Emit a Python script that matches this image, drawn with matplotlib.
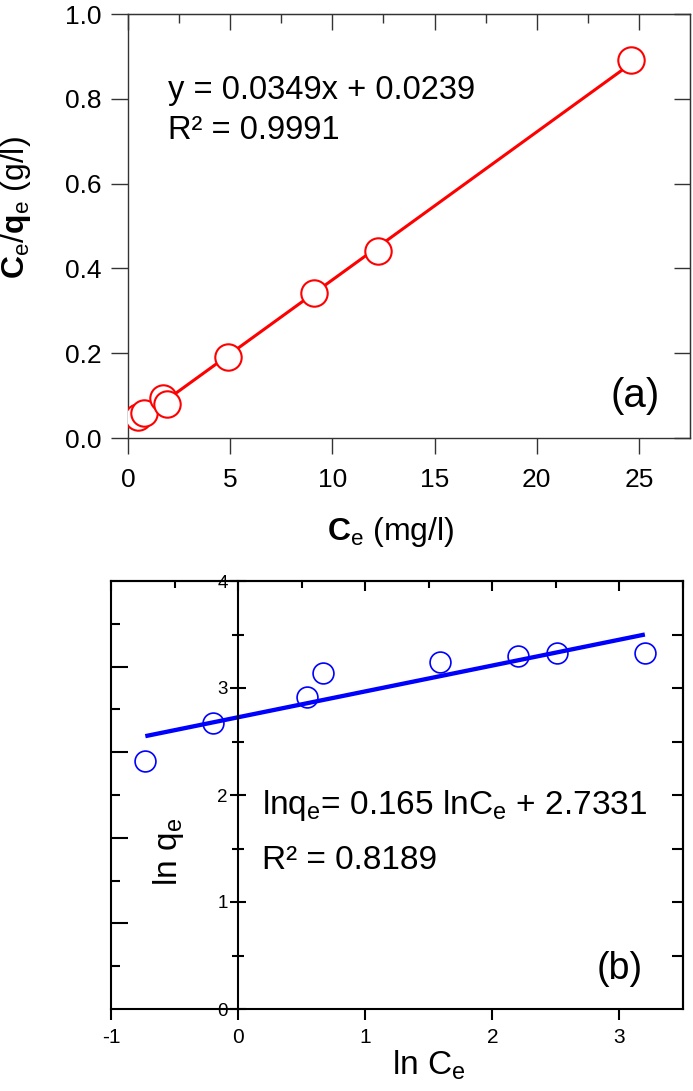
import matplotlib
matplotlib.use('Agg')
import matplotlib.pyplot as plt
from matplotlib.ticker import FixedLocator
import numpy as np

plt.rcParams['font.family'] = ['Liberation Sans', 'DejaVu Sans']
plt.rcParams['mathtext.fontset'] = 'custom'
plt.rcParams['mathtext.rm'] = 'Liberation Sans'
plt.rcParams['mathtext.it'] = 'Liberation Sans:italic'
plt.rcParams['mathtext.bf'] = 'Liberation Sans:bold'
plt.rcParams['axes.unicode_minus'] = False

# (a) Langmuir plot: Ce vs Ce/qe
ce_a = [0.49, 0.78, 1.72, 1.93, 4.88, 9.09, 12.24, 24.6]
ceqe_a = [0.05, 0.06, 0.094, 0.08, 0.19, 0.342, 0.441, 0.891]
slope_a, icept_a = 0.0349, 0.0239

# (b) Freundlich plot: ln Ce vs ln qe
lnce_b = [-0.73, -0.20, 0.54, 0.67, 1.59, 2.20, 2.51, 3.20]
lnqe_b = [2.32, 2.67, 2.92, 3.14, 3.24, 3.30, 3.33, 3.33]
line_b_x = [-0.73, 3.20]
line_b_y = [2.55, 3.50]

fig = plt.figure(figsize=(6.93, 10.91), dpi=100)

# ---------------- panel (a) ----------------
gray = '#333333'
ax1 = fig.add_axes([128/693, 1 - 438/1091, 562/693, 424/1091])
xf = np.array([min(ce_a), max(ce_a)])
ax1.plot(xf, slope_a * xf + icept_a, color='#ff0000', lw=2.2, zorder=2)
ax1.plot(ce_a, ceqe_a, 'o', ms=19, mfc='white', mec='#ff0000', mew=1.5, zorder=3)
ax1.set_xlim(0, 27.5)
ax1.set_ylim(0, 1.0)
ax1.set_xticks(np.arange(0, 26, 5))
ax1.set_yticks(np.arange(0, 1.01, 0.2))
ax1.yaxis.set_major_formatter('{x:.1f}')
for s in ax1.spines.values():
    s.set_color(gray)
    s.set_linewidth(1.0)
ax1.tick_params(axis='both', direction='out', width=1.0, color=gray, labelsize=19)
ax1.tick_params(axis='x', length=11.5, pad=10)
ax1.tick_params(axis='y', length=12, pad=7)

topx = ax1.secondary_xaxis('top')
topx.set_xticks(np.arange(0, 26, 5))
topx.xaxis.set_minor_locator(FixedLocator(np.arange(2.5, 27.5, 5)))
topx.tick_params(which='both', direction='in', color=gray, width=1.0, labeltop=False)
topx.tick_params(which='major', length=11.5)
topx.tick_params(which='minor', length=6.5)
topx.spines['top'].set_color(gray)

righty = ax1.secondary_yaxis('right')
righty.set_yticks(np.arange(0, 1.01, 0.2))
righty.tick_params(direction='in', length=11.5, color=gray, width=1.0, labelright=False)
righty.spines['right'].set_color(gray)

ax1.set_xlabel(r'$\mathbf{C}_{\mathrm{e}}$ (mg/l)', fontsize=23)
ax1.xaxis.set_label_coords(0.468, -0.182)
ax1.set_ylabel(r'$\mathbf{C}_{\mathrm{e}}/\mathbf{q}_{\mathrm{e}}$ (g/l)', fontsize=23)
ax1.yaxis.set_label_coords(-0.169, 0.543)

ax1.text(1.96, 0.82, 'y = 0.0349x + 0.0239', fontsize=23.5, va='center', ha='left')
ax1.text(1.96, 0.726, 'R² = 0.9991', fontsize=23.5, va='center', ha='left')
ax1.text(24.8, 0.10, '(a)', fontsize=29, va='center', ha='center')

# ---------------- panel (b) ----------------
ax2 = fig.add_axes([111/693, 1 - 1009/1091, 572/693, 428/1091])
ax2.plot(line_b_x, line_b_y, color='#0000ff', lw=3.1, zorder=2, solid_capstyle='butt')
ax2.plot(lnce_b, lnqe_b, 'o', ms=15, mfc='none', mec='#0000ff', mew=1.2, zorder=3)
ax2.set_xlim(-1, 3.5)
ax2.set_ylim(0, 4)
for s in ax2.spines.values():
    s.set_color('black')
    s.set_linewidth(1.5)
ax2.spines['left'].set_position(('data', 0))
ax2.set_xticks([-1, 0, 1, 2, 3])
ax2.set_yticks([0, 1, 2, 3, 4])
ax2.yaxis.set_minor_locator(FixedLocator([0.5, 1.5, 2.5, 3.5]))
ax2.tick_params(axis='x', direction='out', length=8, width=1.5, labelsize=15, pad=6)
ax2.tick_params(axis='y', which='major', direction='inout', length=11, width=1.5,
                labelsize=13.5, pad=2)
ax2.tick_params(axis='y', which='minor', direction='inout', length=8, width=1.5)

topx2 = ax2.secondary_xaxis('top')
topx2.set_xticks([-1, 0, 1, 2, 3])
topx2.xaxis.set_minor_locator(FixedLocator([-0.5, 0.5, 1.5, 2.5, 3.5]))
topx2.tick_params(which='both', direction='in', width=1.5, labeltop=False)
topx2.tick_params(which='major', length=7.5)
topx2.tick_params(which='minor', length=5)
topx2.spines['top'].set_linewidth(1.5)

lefty2 = ax2.secondary_yaxis('left')
lefty2.set_yticks([0.8, 1.6, 2.4, 3.2])
lefty2.yaxis.set_minor_locator(FixedLocator([0.4, 1.2, 2.0, 2.8, 3.6]))
lefty2.tick_params(which='both', direction='in', width=1.5, labelleft=False)
lefty2.tick_params(which='major', length=12)
lefty2.tick_params(which='minor', length=6.5)
lefty2.spines['left'].set_linewidth(1.5)

righty2 = ax2.secondary_yaxis('right')
righty2.set_yticks(np.arange(0.5, 4.0, 0.5))
righty2.tick_params(direction='in', length=8, width=1.5, labelright=False)
righty2.spines['right'].set_linewidth(1.5)

ax2.set_xlabel(r'ln C$_{\mathrm{e}}$', fontsize=24)
ax2.xaxis.set_label_coords(0.555, -0.092)
ax2.text(-0.55, 1.47, r'ln q$_{\mathrm{e}}$', fontsize=24, rotation=90,
         ha='center', va='center')
ax2.text(0.19, 1.9, r'lnq$_{\mathrm{e}}$= 0.165 lnC$_{\mathrm{e}}$ + 2.7331', fontsize=24,
         ha='left', va='center')
ax2.text(0.19, 1.39, 'R² = 0.8189', fontsize=24, ha='left', va='center')
ax2.text(3.0, 0.37, '(b)', fontsize=27, ha='center', va='center')

fig.savefig('out.png', dpi=100)
